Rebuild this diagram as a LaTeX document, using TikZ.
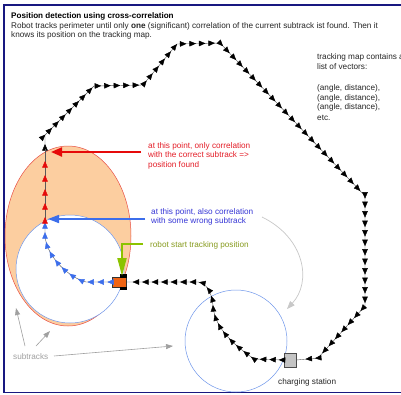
\documentclass[tikz,border=0pt]{standalone}
\usepackage{fontspec}
\setmainfont{Liberation Sans}
\usetikzlibrary{arrows.meta,decorations.markings}
\definecolor{frameblue}{RGB}{24,24,128}
\definecolor{peach}{RGB}{252,206,160}
\definecolor{ellred}{RGB}{232,80,70}
\definecolor{circblue}{RGB}{110,150,235}
\definecolor{txtred}{RGB}{228,30,40}
\definecolor{arrred}{RGB}{230,10,10}
\definecolor{txtblue}{RGB}{54,54,214}
\definecolor{arrblue}{RGB}{60,110,235}
\definecolor{lgreen}{RGB}{140,195,0}
\definecolor{txtgreen}{RGB}{135,155,30}
\definecolor{robotorange}{RGB}{240,100,20}
\definecolor{stgray}{RGB}{196,196,196}
\definecolor{subgray}{RGB}{160,160,160}
\definecolor{arcgray}{RGB}{200,200,200}
\tikzset{
  txt/.style={font=\fontsize{8.2}{9}\selectfont, anchor=base west, inner sep=0pt, text=black!85},
  ttl/.style={font=\bfseries\fontsize{8.1}{9}\selectfont, anchor=base west, inner sep=0pt},
  trackline/.style={draw=black!65, line width=0.4pt},
  blackarrows/.style={postaction={decorate}, decoration={markings,
     mark=between positions 5pt and -2pt step 9.5pt with {\arrow{Triangle[length=6.5pt,width=5.5pt,black]}}}},
  bluearrows/.style={postaction={decorate}, decoration={markings,
     mark=between positions 5pt and -2pt step 10pt with {\arrow{Triangle[length=6.5pt,width=5.5pt,arrblue]}}}},
  redarrows/.style={postaction={decorate}, decoration={markings,
     mark=between positions 3pt and -1pt step 14pt with {\arrow{Triangle[length=6.5pt,width=5.5pt,arrred]}}}},
  subarrow/.style={draw=subgray, line width=0.6pt, -{Triangle[length=7pt,width=5pt]}},
}
\begin{document}
\begin{tikzpicture}[x=1pt,y=-1pt]
\useasboundingbox (0,0) rectangle (401,394);
\fill[white] (0,0) rectangle (401,394);
% frame
\draw[frameblue, line width=1.6pt] (4,5) rectangle (440,392.5);
% texts
\node[ttl] (title) at (11,18) {Position detection using cross-correlation};
\node[txt] (l2) at (11,28.4) {Robot tracks perimeter until only \textbf{one} (significant) correlation of the current subtrack ist found. Then it};
\node[txt] (l3) at (11,37.2) {knows its position on the tracking map.};
\node[txt] (m1) at (317,59.6) {tracking map contains a};
\node[txt] (m2) at (317,69.9) {list of vectors:};
\node[txt] (m3) at (317,90.5) {(angle, distance),};
\node[txt] (m4) at (317,100.1) {(angle, distance),};
\node[txt] (m5) at (317,109.8) {(angle, distance),};
\node[txt] (m6) at (317,120.1) {etc.};
% subtracks shapes
\fill[peach, draw=ellred, line width=0.5pt] (68,236) ellipse [x radius=63, y radius=90];
\filldraw[fill=white, draw=circblue, line width=0.5pt] (70,269) circle [radius=54];
\draw[circblue, line width=0.5pt] (236,341) circle [radius=51];
% gray arc arrow
\coordinate (arcA) at (262,217);
\coordinate (arcB) at (287,309);
\draw[arcgray, line width=0.7pt, -{Triangle[length=8pt,width=6pt]}] (arcA) .. controls (305,238) and (312,282) .. (arcB);
% robot and station
\node[draw=black!80, fill=robotorange, minimum width=14pt, minimum height=10pt, inner sep=0pt, line width=0.5pt] (robot) at (119.5,282) {};
\fill[black] (120,274) rectangle (127,277.5);
\fill[black] (120,286.5) rectangle (127,289.5);
\node[draw=black!70, fill=stgray, minimum width=12pt, minimum height=14pt, inner sep=0pt, line width=0.5pt] (station) at (290,360) {};
\node[txt] (stlbl) at (278,384) {charging station};
% track
\coordinate (rb) at (45,220);
\coordinate (rt) at (45,149);
\draw[trackline, blackarrows] (rt) -- (45,135) -- (94,86) -- (143,85) -- (177,44) -- (220,43) -- (365,196) -- (365,306) -- (318,358) -- (station.east);
\draw[trackline, blackarrows] (station.west) -- (254,359) .. controls (236,346) and (215,330) .. (213,306) .. controls (212,292) and (206,283) .. (198,282) -- (robot.east);
\draw[trackline, bluearrows] (robot.west) -- (86,282) .. controls (70,278) and (47,258) .. (45,236) -- (rb);
\draw[trackline, redarrows] (rb) -- (rt);
% annotations
\node[txt, text=txtred] (r1) at (148,148) {at this point, only correlation};
\node[txt, text=txtred] (r2) at (148,157.5) {with the correct subtrack =>};
\node[txt, text=txtred] (r3) at (148,167) {position found};
\coordinate (rs) at (141,152);
\coordinate (rp) at (51,152);
\draw[arrred, line width=2.2pt, -{Triangle[length=11pt,width=9pt]}] (rs) -- (rp);
\node[txt, text=txtblue] (b1) at (151,214.3) {at this point, also correlation};
\node[txt, text=txtblue] (b2) at (151,223.7) {with some wrong subtrack};
\coordinate (bs) at (145,219);
\coordinate (bp) at (48,219);
\draw[arrblue, line width=1.6pt, -{Triangle[length=11pt,width=8pt]}] (bs) -- (bp);
\node[txt, text=txtgreen] (g1) at (150,247.7) {robot start tracking position};
\coordinate (gs) at (143,244);
\coordinate (gp) at (122,276);
\draw[lgreen, line width=2pt, -{Triangle[length=18pt,width=9pt]}] (gs) -| (gp);
% subtracks label
\node[txt, text=subgray] (sub) at (13,359.5) {subtracks};
\coordinate (s1a) at (25,346);
\coordinate (s1b) at (16,308);
\coordinate (s2a) at (36,346);
\coordinate (s2b) at (50,331);
\coordinate (s3a) at (54,356);
\coordinate (s3b) at (173,346);
\draw[subarrow] (s1a) -- (s1b);
\draw[subarrow] (s2a) -- (s2b);
\draw[subarrow] (s3a) -- (s3b);
\end{tikzpicture}
\end{document}
